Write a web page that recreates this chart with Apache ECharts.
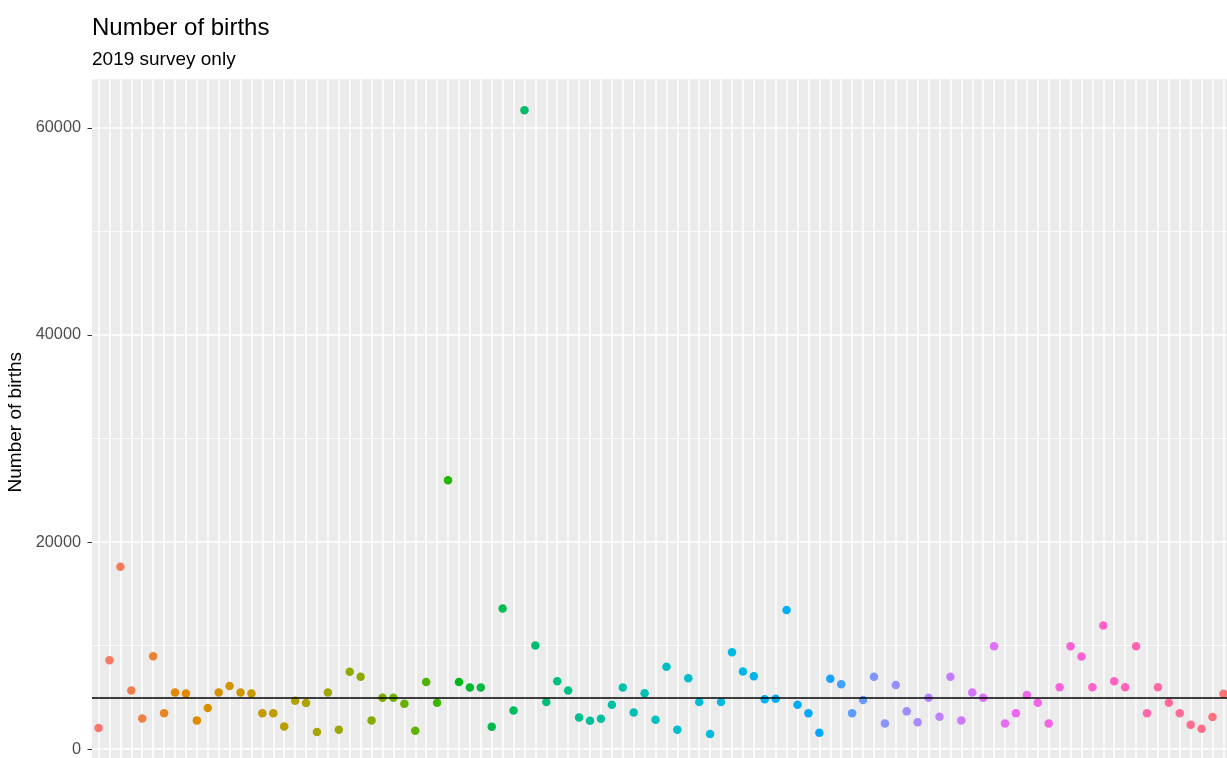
<!DOCTYPE html>
<html>
<head>
<meta charset="utf-8">
<script src="https://cdn.jsdelivr.net/npm/echarts@6/dist/echarts.min.js"></script>
<style>
html,body{margin:0;padding:0;background:#fff;}
#chart{width:1227px;height:758px;}
</style>
</head>
<body>
<div id="chart"></div>
<script>
// ---- data ----
const births = [
  2030, 8590, 17600, 5660, 2960, 8970, 3470, 5470, 5370, 2770,
  3960, 5470, 6080, 5470, 5370, 3470, 3470, 2190, 4660, 4440,
  1640, 5470, 1870, 7460, 6980, 2770, 4950, 4950, 4370, 1770,
  6470, 4470, 25960, 6470, 5950, 5950, 2150, 13580, 3730, 61700,
  10000, 4540, 6560, 5660, 3060, 2730, 2920, 4280, 5950, 3540,
  5400, 2830, 7940, 1870, 6850, 4540, 1450, 4540, 9360, 7500,
  7040, 4800, 4860, 13440, 4280, 3470, 1580, 6790, 6270, 3470,
  4730, 6980, 2480, 6180, 3640, 2580, 4950, 3120, 6980, 2770,
  5470, 4950, 9940, 2480, 3470, 5210, 4470, 2480, 5980, 9940,
  8940, 5980, 11940, 6560, 5980, 9940, 3470, 5980, 4470, 3470,
  2350, 1960, 3090, 5340
];
const categories = births.map((_, i) => i + 1);   // category positions 1..n
const yTicks = [0, 20000, 40000, 60000];
const yMinorLines = [10000, 30000, 50000];
const referenceLine = 4950;

// ---- ggplot-like hue palette (style only) ----
function hcl(h, c, l) {
  const hr = h * Math.PI / 180;
  const U = c * Math.cos(hr), V = c * Math.sin(hr);
  const WX = 95.047, WY = 100, WZ = 108.883;
  const Y = l > 7.999592 ? WY * Math.pow((l + 16) / 116, 3) : WY * l / 903.3;
  const den = WX + 15 * WY + 3 * WZ;
  const un = 4 * WX / den, vn = 9 * WY / den;
  const u = U / (13 * l) + un, v = V / (13 * l) + vn;
  const X = 9 * Y * u / (4 * v);
  const Z = -X / 3 - 5 * Y + 3 * Y / v;
  const x = X / 100, y = Y / 100, z = Z / 100;
  const lin = [
    3.240479 * x - 1.537150 * y - 0.498535 * z,
    -0.969256 * x + 1.875992 * y + 0.041556 * z,
    0.055648 * x - 0.204043 * y + 1.057311 * z
  ];
  const g = t => {
    t = t <= 0.0031308 ? 12.92 * t : 1.055 * Math.pow(t, 1 / 2.4) - 0.055;
    t = Math.max(0, Math.min(1, t));
    return Math.round(t * 255);
  };
  return 'rgb(' + lin.map(g).join(',') + ')';
}
const n = categories.length;
const colors = categories.map((_, i) => hcl(15 + i * 360 / n, 100, 65));

const chart = echarts.init(document.getElementById('chart'), null, {renderer: 'canvas'});
chart.setOption({
  animation: false,
  backgroundColor: '#ffffff',
  textStyle: {fontFamily: 'Liberation Sans'},
  title: [
    {text: 'Number of births', left: 92, top: 16, padding: 0,
     textStyle: {fontSize: 24, fontWeight: 'normal', color: '#000', fontFamily: 'Liberation Sans'}},
    {text: '2019 survey only', left: 92, top: 50, padding: 0,
     textStyle: {fontSize: 19, fontWeight: 'normal', color: '#000', fontFamily: 'Liberation Sans'}}
  ],
  grid: {
    left: 92, top: 79.2, width: 1138, height: 686,
    outerBoundsMode: 'none', containLabel: false,
    show: true, backgroundColor: '#EBEBEB', borderWidth: 0
  },
  xAxis: {
    type: 'value', min: 0.4, max: n + 0.6,
    axisLine: {show: false},
    axisLabel: {show: false},
    axisTick: {show: false, customValues: categories},
    splitLine: {show: true, lineStyle: {color: '#ffffff', width: 1.5}}
  },
  yAxis: {
    type: 'value', min: -1560, max: 64710,
    name: 'Number of births', nameLocation: 'middle', nameGap: 56,
    nameTextStyle: {fontSize: 19, color: '#000', fontFamily: 'Liberation Sans'},
    axisLine: {show: false},
    axisTick: {show: true, length: 4.5, customValues: yTicks, lineStyle: {color: '#333333', width: 1}},
    axisLabel: {customValues: yTicks, color: '#4D4D4D', fontSize: 16.3, margin: 11,
                fontFamily: 'Liberation Sans', formatter: v => String(v)},
    splitLine: {show: true, lineStyle: {color: '#ffffff', width: 1.5}}
  },
  series: [
    {
      type: 'line', data: [], silent: true, z: 1,
      markLine: {
        silent: true, symbol: 'none', z: 1, animation: false,
        label: {show: false},
        lineStyle: {color: '#ffffff', width: 0.8, type: 'solid'},
        data: yMinorLines.map(v => ({yAxis: v}))
      }
    },
    {
      type: 'scatter', z: 3,
      symbolSize: 8.5,
      data: births.map((v, i) => ({value: [categories[i], v], itemStyle: {color: colors[i], opacity: 1}})),
      markLine: {
        silent: true, symbol: 'none', z: 6, animation: false,
        label: {show: false},
        lineStyle: {color: '#000000', width: 1.6, type: 'solid'},
        data: [{yAxis: referenceLine}]
      }
    }
  ]
});
</script>
</body>
</html>
